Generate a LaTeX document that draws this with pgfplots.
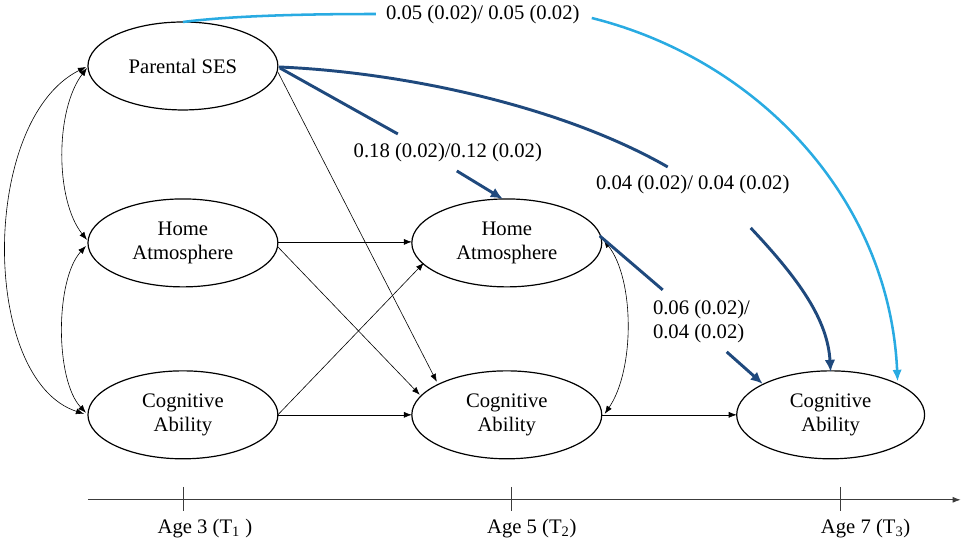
\documentclass[border=0pt]{standalone}
\usepackage{fontspec}
\setmainfont{Liberation Serif}
\usepackage{pgfplots}
\pgfplotsset{compat=1.18}
\usetikzlibrary{shapes.geometric,arrows.meta}
\definecolor{lblue}{RGB}{41,171,226}
\definecolor{dblue}{RGB}{31,73,125}
\definecolor{tline}{RGB}{60,60,60}
\begin{document}
\begin{tikzpicture}[
  lat/.style={ellipse, draw=black, line width=0.9pt, minimum width=142.5pt, minimum height=66pt, inner sep=0pt, align=center, font=\fontsize{15.5}{18}\selectfont},
  lab/.style={font=\fontsize{15.5}{18}\selectfont, inner sep=0pt, align=left},
  thin/.style={line width=0.45pt, black, -{Latex[length=6pt,width=4.5pt]}},
  thinb/.style={line width=0.45pt, black, {Latex[length=6pt,width=4.5pt]}-{Latex[length=6pt,width=4.5pt]}},
  thickd/.style={line width=2.2pt, dblue},
  thickl/.style={line width=1.9pt, lblue},
]
\begin{axis}[scale only axis, width=720.75pt, height=408pt,
  xmin=0, xmax=961, ymin=0, ymax=544, y dir=reverse, hide axis, clip=false]
\path (rel axis cs:0,0) rectangle (rel axis cs:1,1);

% latent variables
\node[lat] at (axis cs:183,66) {Parental SES};
\node[lat] at (axis cs:183,243) {Home\\Atmosphere};
\node[lat] at (axis cs:183,415) {Cognitive\\Ability};
\node[lat] at (axis cs:507,243) {Home\\Atmosphere};
\node[lat] at (axis cs:507,415) {Cognitive\\Ability};
\node[lat, minimum width=141pt] at (axis cs:831,415) {Cognitive\\Ability};

% thin black paths
\addplot[thin] coordinates {(278,72) (437,382)};
\addplot[thin] coordinates {(278,242) (412,242)};
\addplot[thin] coordinates {(278,247) (420,395)};
\addplot[thin] coordinates {(278,415) (424,263)};
\addplot[thin] coordinates {(278,415) (412,415)};
\addplot[thin] coordinates {(602,415) (737,415)};

% covariances
\draw[thinb, overlay] (axis cs:604,240) .. controls (axis cs:635,280) and (axis cs:635,370) .. (axis cs:605,414);
\draw[thinb, overlay] (axis cs:87,68) .. controls (axis cs:55,110) and (axis cs:55,200) .. (axis cs:87,240);
\draw[thinb, overlay] (axis cs:86,67) .. controls (axis cs:-20,120) and (axis cs:-20,380) .. (axis cs:84,414);
\draw[thinb, overlay] (axis cs:86,246) .. controls (axis cs:55,280) and (axis cs:55,380) .. (axis cs:86,413);

% light blue: Parental SES -> Cognitive T3
\draw[thickl, overlay] (axis cs:183,22) .. controls (axis cs:230,16) and (axis cs:300,14) .. (axis cs:376,14);
\draw[thickl, overlay, -{Latex[length=9pt,width=7pt]}] (axis cs:592,18) .. controls (axis cs:760,60) and (axis cs:890,200) .. (axis cs:898,382);

% dark blue: Parental SES -> Cognitive T3
\draw[thickd, overlay] (axis cs:279,67) .. controls (axis cs:400,72) and (axis cs:560,105) .. (axis cs:668,167);
\draw[thickd, overlay, -{Latex[length=9pt,width=8pt]}] (axis cs:751,228) .. controls (axis cs:800,280) and (axis cs:828,320) .. (axis cs:831,372);

% dark blue: Parental SES -> Home T2
\addplot[thickd] coordinates {(280,68) (398,134)};
\addplot[thickd, -{Latex[length=9pt,width=8pt]}] coordinates {(457,171) (503,199)};

% dark blue: Home T2 -> Cognitive T3
\addplot[thickd] coordinates {(600,236) (663,290)};
\addplot[thickd, -{Latex[length=9pt,width=8pt]}] coordinates {(727,352) (763,384)};

% coefficient labels
\node[lab] at (axis cs:483,15) {0.05 (0.02)/ 0.05 (0.02)};
\node[lab] at (axis cs:448,153) {0.18 (0.02)/0.12 (0.02)};
\node[lab] at (axis cs:693,185) {0.04 (0.02)/ 0.04 (0.02)};
\node[lab, anchor=west] at (axis cs:653,322) {0.06 (0.02)/\\0.04 (0.02)};

% timeline
\addplot[line width=0.6pt, tline, -{Latex[length=6pt,width=4.5pt]}] coordinates {(88,500) (961,500)};
\addplot[line width=0.6pt, tline] coordinates {(183,487) (183,511)};
\addplot[line width=0.6pt, tline] coordinates {(512,487) (512,511)};
\addplot[line width=0.6pt, tline] coordinates {(841,487) (841,511)};
\node[lab] at (axis cs:205,529) {Age 3 (T\textsubscript{1} )};
\node[lab] at (axis cs:532,529) {Age 5 (T\textsubscript{2})};
\node[lab] at (axis cs:866,529) {Age 7 (T\textsubscript{3})};
\end{axis}
\end{tikzpicture}
\end{document}
